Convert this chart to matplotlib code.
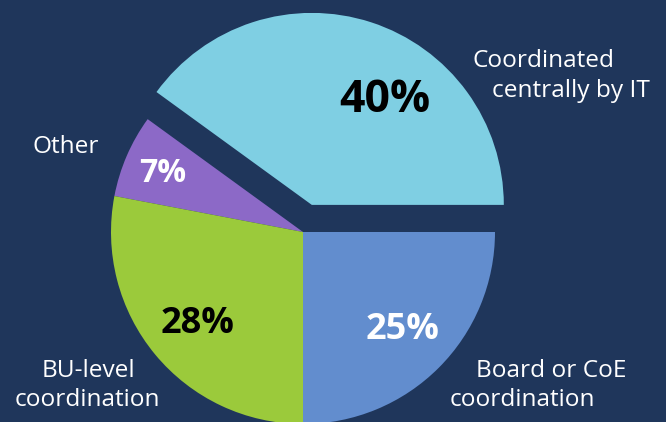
import matplotlib
matplotlib.use("Agg")
import matplotlib.pyplot as plt

# datos del gráfico
categorias = ["Coordinated\ncentrally by IT", "Other", "BU-level\ncoordination", "Board or CoE\ncoordination"]
valores = [40, 7, 28, 25]
colores = ["#7fcfe3", "#8c69c7", "#9bca3b", "#628dce"]
color_pct = ["black", "white", "black", "white"]
separacion = [28.5, 0, 0, 0]

fondo = "#1f365b"
plt.rcParams['font.family'] = ['Open Sans', 'DejaVu Sans']

fig = plt.figure(figsize=(6.66, 4.22), dpi=100, facecolor=fondo)
ax = fig.add_axes([0, 0, 1, 1])
ax.set_facecolor(fondo)

# pie en coordenadas de pixel (y hacia arriba)
centro = (303, 190)
ax.pie(valores, colors=colores, startangle=0, counterclock=True,
       explode=separacion, radius=192, center=centro,
       wedgeprops=dict(linewidth=0))

ax.set_xlim(0, 666)
ax.set_ylim(0, 422)
ax.set_aspect('equal')
ax.axis('off')

H = 422
# porcentajes (x centro, y linea base)
pos_pct = [(385, 112), (163, 182), (198, 333), (403, 339)]
tam_pct = [32, 23, 26, 26]
for v, (x, y), c, s in zip(valores, pos_pct, color_pct, tam_pct):
    ax.text(x, H - y, f"{v}%", color=c, fontsize=s, fontweight='bold',
            ha='center', va='baseline')

# etiquetas, una línea a la vez
lineas = [
    (categorias[0].split("\n")[0], 473, 67),
    (categorias[0].split("\n")[1], 492, 97),
    (categorias[1], 33, 153),
    (categorias[2].split("\n")[0], 42, 377),
    (categorias[2].split("\n")[1], 15, 406),
    (categorias[3].split("\n")[0], 476, 377),
    (categorias[3].split("\n")[1], 450, 406),
]
for txt, x, y in lineas:
    ax.text(x, H - y, txt, color="white", fontsize=17.6, ha='left', va='baseline')

fig.savefig("out.png", dpi=100, facecolor=fondo)
